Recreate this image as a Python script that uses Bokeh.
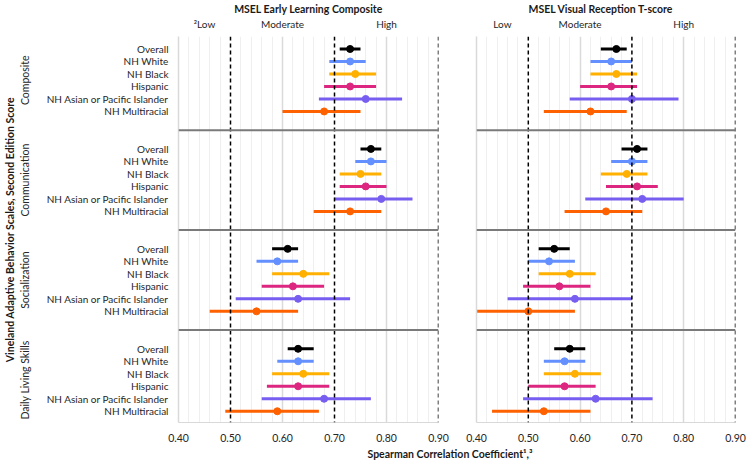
import numpy as np
from bokeh.plotting import figure
from bokeh.models import Range1d, FixedTicker, LinearAxis, Span, Label, ColumnDataSource
from bokeh.layouts import column, row
from bokeh.embed import file_html
from bokeh.resources import INLINE

# ---------------- data ----------------
sections = ["Composite", "Communication", "Socialization", "Daily Living Skills"]
groups = ["Overall", "NH White", "NH Black", "Hispanic",
          "NH Asian or Pacific Islander", "NH Multiracial"]
group_colors = ["#000000", "#648FFF", "#FFB000", "#DC267F", "#785EF0", "#FE6100"]
panel_titles = ["MSEL Early Learning Composite", "MSEL Visual Reception T-score"]
x_ticks = [0.40, 0.50, 0.60, 0.70, 0.80, 0.90]
thresholds = [0.50, 0.70, 0.90]
band_centers = [0.45, 0.60, 0.80]
band_labels_left = ["\u00b2Low", "Moderate", "High"]
band_labels_right = ["Low", "Moderate", "High"]
x_title = "Spearman Correlation Coefficient\u00b9,\u00b3"
y_title = "Vineland Adaptive Behavior Scales, Second Edition Score"

# MSEL Early Learning Composite (section by section, groups in order)
elc_est = [0.73, 0.73, 0.74, 0.73, 0.76, 0.68,
           0.77, 0.77, 0.75, 0.76, 0.79, 0.73,
           0.61, 0.59, 0.64, 0.62, 0.63, 0.55,
           0.63, 0.63, 0.64, 0.63, 0.68, 0.59]
elc_lo = [0.71, 0.69, 0.69, 0.68, 0.67, 0.60,
          0.75, 0.74, 0.71, 0.71, 0.70, 0.66,
          0.58, 0.55, 0.58, 0.56, 0.51, 0.46,
          0.61, 0.59, 0.58, 0.57, 0.56, 0.49]
elc_hi = [0.75, 0.76, 0.78, 0.78, 0.83, 0.75,
          0.79, 0.80, 0.79, 0.80, 0.85, 0.79,
          0.63, 0.63, 0.69, 0.68, 0.73, 0.63,
          0.66, 0.66, 0.69, 0.69, 0.77, 0.67]

# MSEL Visual Reception T-score
vr_est = [0.67, 0.66, 0.67, 0.66, 0.70, 0.62,
          0.71, 0.70, 0.69, 0.71, 0.72, 0.65,
          0.55, 0.54, 0.58, 0.56, 0.59, 0.50,
          0.58, 0.57, 0.59, 0.57, 0.63, 0.53]
vr_lo = [0.64, 0.62, 0.62, 0.60, 0.58, 0.53,
         0.68, 0.66, 0.64, 0.65, 0.61, 0.57,
         0.52, 0.50, 0.52, 0.49, 0.46, 0.40,
         0.55, 0.53, 0.53, 0.50, 0.49, 0.43]
vr_hi = [0.69, 0.70, 0.71, 0.71, 0.79, 0.69,
         0.73, 0.73, 0.73, 0.75, 0.80, 0.72,
         0.58, 0.59, 0.63, 0.62, 0.70, 0.59,
         0.61, 0.61, 0.64, 0.63, 0.74, 0.62]

# ---------------- layout helpers ----------------
FONT = "Lato"
TXT = "#262626"
ROW_STEP = 8  # rows per section incl. gap
rows = [1 + ROW_STEP * s + g for s in range(len(sections)) for g in range(len(groups))]
row_names = [groups[g] for s in range(len(sections)) for g in range(len(groups))]
row_colors = [group_colors[g] for s in range(len(sections)) for g in range(len(groups))]
section_mid = [1 + ROW_STEP * s + (len(groups) - 1) / 2 for s in range(len(sections))]
dividers = [ROW_STEP * s - 0.5 for s in range(1, len(sections))]

minor = [round(v, 2) for v in np.arange(0.42, 0.90, 0.02) if round(v * 100) % 10 != 0]

FH = 386


def make_panel(title, est, lo, hi, band_labels, frame_w, bl, br, show_labels,
               title_align="center", title_offset=0):
    p = figure(frame_width=frame_w, frame_height=FH,
               x_range=Range1d(0.40, 0.90), y_range=Range1d(30.9, 0),
               toolbar_location=None, output_backend="svg",
               min_border_left=bl, min_border_right=br,
               min_border_top=28, min_border_bottom=21,
               outline_line_color=None)
    p.title.text = title
    p.title.align = title_align
    p.title.offset = title_offset
    p.title.text_font = FONT
    p.title.text_font_size = "10.5px"
    p.title.text_font_style = "bold"
    p.title.text_color = "#1a1a1a"
    p.title.standoff = 0

    # x axis
    xa = p.xaxis[0]
    xa.ticker = FixedTicker(ticks=x_ticks)
    xa.major_label_overrides = {t: f"{t:.2f}" for t in x_ticks}
    xa.major_tick_line_color = None
    xa.minor_tick_line_color = None
    xa.axis_line_color = "#d9d9d9"
    xa.major_label_text_font = FONT
    xa.major_label_text_font_size = "10.5px"
    xa.major_label_text_color = TXT
    xa.major_label_standoff = 5

    # band labels above
    top = LinearAxis(ticker=FixedTicker(ticks=band_centers),
                     major_label_overrides={c: t for c, t in zip(band_centers, band_labels)})
    top.axis_line_color = None
    top.major_tick_line_color = None
    top.minor_tick_line_color = None
    top.major_label_standoff = 1
    top.major_label_text_font = FONT
    top.major_label_text_font_size = "10px"
    top.major_label_text_color = TXT
    p.add_layout(top, "above")

    # y axis
    ya = p.yaxis[0]
    ya.axis_line_color = "#d9d9d9"
    ya.axis_line_width = 1.5
    ya.major_tick_line_color = None
    ya.minor_tick_line_color = None
    if show_labels:
        ya.ticker = FixedTicker(ticks=rows)
        ya.major_label_overrides = {r: n for r, n in zip(rows, row_names)}
        ya.major_label_text_font = FONT
        ya.major_label_text_font_size = "10px"
        ya.major_label_text_color = TXT
        ya.major_label_standoff = 4

        sa = LinearAxis(ticker=FixedTicker(ticks=section_mid),
                        major_label_overrides={m: s for m, s in zip(section_mid, sections)})
        sa.major_label_orientation = "vertical"
        sa.axis_line_color = None
        sa.major_tick_line_color = None
        sa.minor_tick_line_color = None
        sa.major_label_standoff = 6
        sa.major_label_text_font = FONT
        sa.major_label_text_font_size = "10.5px"
        sa.major_label_text_color = TXT
        sa.axis_label = y_title
        sa.axis_label_text_font = FONT
        sa.axis_label_text_font_size = "10.5px"
        sa.axis_label_text_font_style = "bold"
        sa.axis_label_text_color = "#1a1a1a"
        sa.axis_label_standoff = 1
        p.add_layout(sa, "left")
    else:
        ya.ticker = FixedTicker(ticks=[])
        ya.major_label_standoff = 0

    # grid
    p.ygrid.visible = False
    g = p.xgrid[0]
    g.ticker = FixedTicker(ticks=[0.40, 0.60, 0.80], minor_ticks=minor)
    g.grid_line_color = "#dadada"
    g.grid_line_width = 1.5
    g.minor_grid_line_color = "#efefef"
    g.minor_grid_line_width = 1

    for t in thresholds:
        p.add_layout(Span(location=t, dimension="height", line_color="#000000",
                          line_width=1.5, line_dash="4 3"))
    for d in dividers:
        p.add_layout(Span(location=d, dimension="width", line_color="#7a7a7a",
                          line_width=2))

    src = ColumnDataSource(dict(y=rows, est=est, lo=lo, hi=hi, color=row_colors))
    p.segment(x0="lo", y0="y", x1="hi", y1="y", line_color="color",
              line_width=3, source=src)
    p.scatter(x="est", y="y", size=7, fill_color="color", line_color="color", source=src)
    return p


p1 = make_panel(panel_titles[0], elc_est, elc_lo, elc_hi, band_labels_left,
                260, 172, 19, True)
p2 = make_panel(panel_titles[1], vr_est, vr_lo, vr_hi, band_labels_right,
                259, 19, 11, False, title_align="left", title_offset=52)

p3 = figure(width=742, height=19, x_range=Range1d(0, 742), y_range=Range1d(0, 19),
            min_border=0, x_axis_type=None, y_axis_type=None,
            toolbar_location=None, outline_line_color=None, output_backend="svg")
p3.add_layout(Label(x=367, y=10, text=x_title, text_align="left", text_baseline="middle",
                    text_font=FONT, text_font_size="10.5px", text_font_style="bold",
                    text_color="#1a1a1a"))

layout = column(row(p1, p2), p3)
open("out.html", "w").write(file_html(layout, INLINE))
